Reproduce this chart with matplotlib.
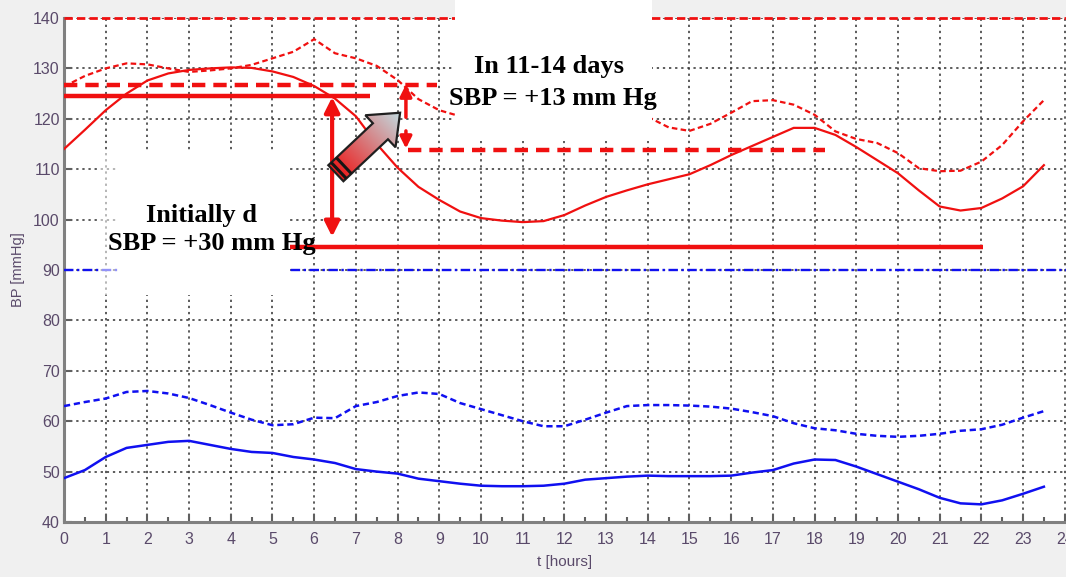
import numpy as np
import matplotlib
matplotlib.use("Agg")
import matplotlib.pyplot as plt
from matplotlib.patches import Polygon, Rectangle

# hours of day (every half hour)
t = np.arange(0, 24, 0.5)

# systolic pressure, upper (dotted) curve, NaN where hidden by the caption box
sbp_dotted = [126.4, 128.5, 130.0, 131.0, 130.8, 130.0, 129.3, 129.6, 130.0, 130.7,
              132.0, 133.3, 135.8, 133.0, 132.0, 130.5, 127.7, 123.9, 121.7, 120.5,
              np.nan, np.nan, np.nan, np.nan, np.nan, np.nan, np.nan, np.nan,
              120.4, 118.3, 117.6, 119.0, 121.2, 123.5, 123.7, 122.8, 120.8, 117.5,
              116.0, 115.2, 113.2, 110.2, 109.6, 109.7, 111.5, 114.8, 119.5, 123.7]
# systolic pressure, solid curve
sbp_solid = [114.0, 117.8, 121.7, 125.0, 127.6, 129.0, 129.7, 130.0, 130.2, 130.1,
             129.4, 128.3, 126.5, 124.0, 120.5, 115.0, 110.3, 106.5, 103.9, 101.6,
             100.3, 99.8, 99.5, 99.7, 100.9, 102.8, 104.5, 105.8, 107.0, 108.0,
             109.0, 110.8, 112.8, 114.6, 116.4, 118.2, 118.2, 116.8, 114.4, 111.8,
             109.2, 105.8, 102.6, 101.8, 102.3, 104.2, 106.6, 110.8]
# diastolic pressure, dashed curve
dbp_dashed = [63.0, 63.8, 64.5, 65.8, 66.0, 65.5, 64.6, 63.2, 61.7, 60.3,
              59.2, 59.4, 60.7, 60.6, 63.0, 63.8, 65.0, 65.7, 65.4, 63.6,
              62.4, 61.2, 60.0, 59.0, 59.0, 60.3, 61.7, 63.0, 63.2, 63.2,
              63.1, 62.9, 62.5, 61.8, 61.0, 59.6, 58.6, 58.2, 57.5, 57.1,
              56.9, 57.1, 57.5, 58.1, 58.4, 59.3, 60.7, 62.0]
# diastolic pressure, solid curve
dbp_solid = [48.7, 50.3, 52.9, 54.7, 55.3, 55.9, 56.1, 55.3, 54.5, 53.9,
             53.7, 52.9, 52.4, 51.7, 50.5, 50.0, 49.6, 48.6, 48.1, 47.6,
             47.2, 47.1, 47.1, 47.2, 47.6, 48.4, 48.7, 49.0, 49.2, 49.1,
             49.1, 49.1, 49.2, 49.8, 50.3, 51.6, 52.4, 52.3, 51.0, 49.5,
             48.0, 46.5, 44.8, 43.7, 43.5, 44.3, 45.6, 47.0]

# limits
sbp_limit = 140
dbp_limit = 90

# reference levels: (level, start hour, end hour)
initial_hi = (124.5, 0.0, 7.34)
initial_lo = (94.5, 5.42, 22.04)
later_hi = (126.8, 0.0, 8.95)
later_lo = (113.8, 8.25, 18.25)

# annotation texts
labels_initial = ["Initially d", "SBP = +30 mm Hg"]
labels_later = ["In 11-14 days", "SBP = +13 mm Hg"]

red = "#f01010"
blue = "#1010f0"

W, H = 1066, 577
fig = plt.figure(figsize=(W / 100, H / 100), dpi=100, facecolor="#f0f0f0")
ax = fig.add_axes([64 / W, 55 / H, 1002 / W, 504 / H])
ax.set_facecolor("white")
ax.set_xlim(0, 24.03)
ax.set_ylim(40, 140)

# limits
ax.axhline(sbp_limit, color=red, lw=2.0, ls=(0, (3, 1.5)), clip_on=False, zorder=3)
ax.axhline(dbp_limit, color=blue, lw=1.7, ls=(0, (4, 1.5, 1, 1.5)), zorder=3)

# curves
ax.plot(t, sbp_dotted, color=red, lw=1.6, ls=(0, (2.5, 1.5)), zorder=3)
ax.plot(t, sbp_solid, color=red, lw=1.6, zorder=3)
ax.plot(t, dbp_dashed, color=blue, lw=1.8, ls=(0, (2.5, 1.5)), zorder=3)
ax.plot(t, dbp_solid, color=blue, lw=1.8, zorder=3)

# reference levels
for lev, a, b in [initial_hi, initial_lo]:
    ax.plot([a, b], [lev, lev], color=red, lw=3.2, solid_capstyle="butt", zorder=3)
for lev, a, b in [later_hi, later_lo]:
    ax.plot([a, b], [lev, lev], color=red, lw=3.2, ls=(0, (3, 1.8)), zorder=3)

# difference arrows
ax.annotate("", xy=(6.43, initial_hi[0] - 0.2), xytext=(6.43, 96.6),
            arrowprops=dict(arrowstyle="<|-|>,head_length=0.9,head_width=0.45",
                            color=red, lw=3, shrinkA=0, shrinkB=0), zorder=4)
ax.annotate("", xy=(8.2, later_hi[0]), xytext=(8.2, 120.3),
            arrowprops=dict(arrowstyle="-|>,head_length=0.7,head_width=0.35",
                            color=red, lw=2.5, shrinkA=0, shrinkB=0), zorder=4)
ax.annotate("", xy=(8.2, later_lo[0] + 0.3), xytext=(8.2, 117.6),
            arrowprops=dict(arrowstyle="-|>,head_length=0.7,head_width=0.35",
                            color=red, lw=2.5, shrinkA=0, shrinkB=0), zorder=4)

# axes styling
ax.set_xticks(np.arange(0, 25, 1))
ax.set_xticks(np.arange(0, 24, 0.5), minor=True)
ax.set_yticks(np.arange(40, 141, 10))
ax.grid(True, which="major", color="#303030", lw=1.1, ls=(0, (1.5, 2.5)))
for s in ["top", "right"]:
    ax.spines[s].set_visible(False)
for s in ["left", "bottom"]:
    ax.spines[s].set_color("#808080")
    ax.spines[s].set_linewidth(2.2)
tick_color = "#5a4a6a"
ax.tick_params(axis="both", which="major", direction="in", length=6, width=1.5,
               color="#606060", labelcolor=tick_color, labelsize=11.5)
ax.tick_params(axis="x", which="minor", direction="in", length=3.5, width=1.5, color="#606060")
ax.tick_params(axis="x", pad=7)
ax.tick_params(axis="y", pad=3)
for lab in ax.get_xticklabels() + ax.get_yticklabels():
    lab.set_family("Liberation Sans")
ax.set_xlabel("t [hours]", fontsize=11, color=tick_color, family="Liberation Sans", labelpad=6)
ax.set_ylabel("BP [mmHg]", fontsize=10.5, color=tick_color, family="Liberation Sans", labelpad=6)

# gradient block arrow
p0 = ax.transData.transform((6.52, 109.2))
p1 = ax.transData.transform((8.06, 121.2))
L = np.hypot(*(p1 - p0))
u = (p1 - p0) / L
n = np.array([-u[1], u[0]])
bw, hw, hl = 11, 22, 27
hb = p0 + u * (L - hl)
poly_disp = np.array([p0 + n * bw, hb + n * bw, hb + n * hw, p1,
                      hb - n * hw, hb - n * bw, p0 - n * bw])
inv = ax.transData.inverted()
poly_data = inv.transform(poly_disp)
patch = Polygon(poly_data, closed=True, facecolor="none", edgecolor="#202020",
                lw=1.6, zorder=7)
x0d, y0d = poly_data.min(axis=0)
x1d, y1d = poly_data.max(axis=0)
gx, gy = np.meshgrid(np.linspace(x0d, x1d, 120), np.linspace(y0d, y1d, 120))
disp = ax.transData.transform(np.column_stack([gx.ravel(), gy.ravel()]))
frac = np.clip(((disp - p0) @ u) / L, 0, 1).reshape(gx.shape)
c0 = np.array([0.93, 0.10, 0.10])
c1 = np.array([0.76, 0.86, 0.88])
img = c0 + (c1 - c0) * frac[..., None]
im = ax.imshow(img, extent=(x0d, x1d, y0d, y1d), origin="lower", aspect="auto",
               interpolation="bilinear", zorder=6)
ax.add_patch(patch)
im.set_clip_path(patch)
for d in (4, 11):
    a = p0 + u * d
    seg = inv.transform(np.array([a + n * bw, a - n * bw]))
    ax.plot(seg[:, 0], seg[:, 1], color="#151515", lw=2.2, solid_capstyle="butt", zorder=8)
ax.set_xlim(0, 24.03)
ax.set_ylim(40, 140)

# white caption boxes (cover the grid as in the source figure)
for x_a, x_b, y_a, y_b, al in [(455, 652, 0, 141, 1.0), (118, 288, 152, 295, 1.0),
                               (100, 118, 152, 295, 0.55)]:
    ax.add_patch(Rectangle((x_a / W, 1 - y_b / H), (x_b - x_a) / W, (y_b - y_a) / H,
                           transform=fig.transFigure, facecolor="white", edgecolor="none",
                           alpha=al, clip_on=False, zorder=9))

def px_to_data(xp, yp):
    return inv.transform(fig.transFigure.transform((xp / W, 1 - yp / H)))

txt = dict(family="Liberation Serif", fontweight="bold", fontsize=19, color="black",
           ha="center", va="baseline", zorder=10)
for lab, (xp, yp) in zip(labels_initial, [(202, 222), (212, 250)]):
    ax.text(*px_to_data(xp, yp), lab, **txt)
for lab, (xp, yp) in zip(labels_later, [(549, 73), (553, 105)]):
    ax.text(*px_to_data(xp, yp), lab, **txt)

fig.savefig("out.png", dpi=100, facecolor=fig.get_facecolor())
